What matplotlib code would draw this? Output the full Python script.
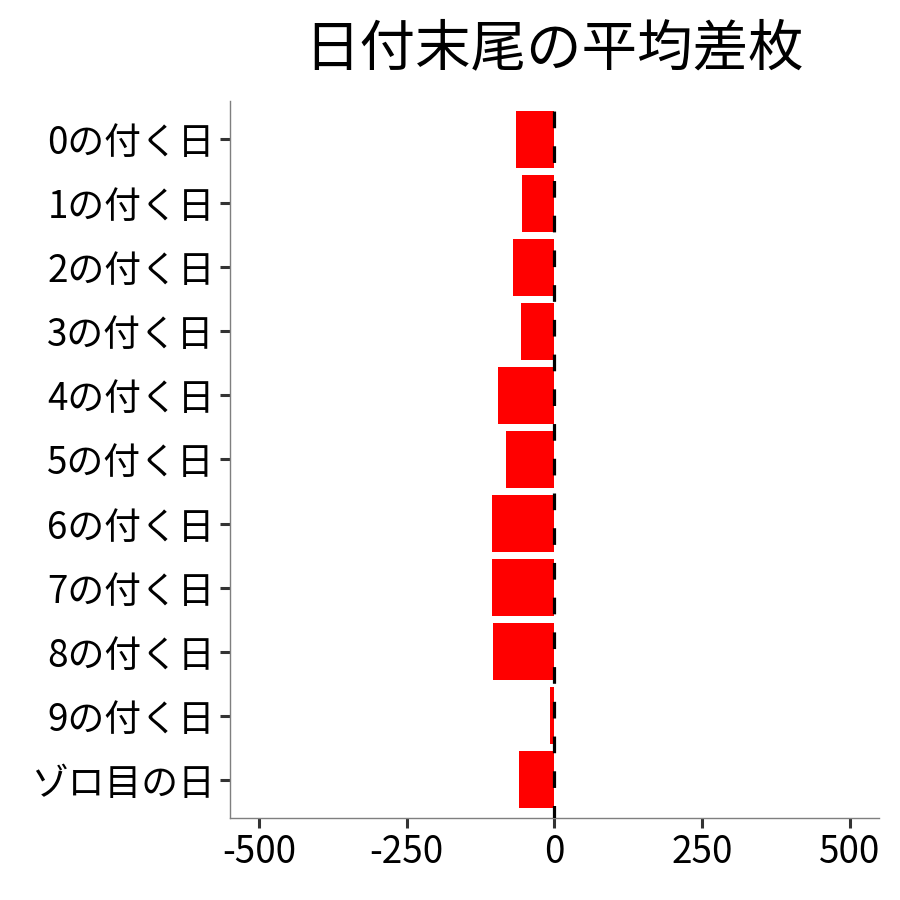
import matplotlib
matplotlib.use("Agg")
import matplotlib.pyplot as plt

plt.rcParams['font.family'] = ['Noto Sans CJK JP', 'DejaVu Sans']
plt.rcParams['lines.scale_dashes'] = False

categories = ["0の付く日", "1の付く日", "2の付く日", "3の付く日", "4の付く日",
              "5の付く日", "6の付く日", "7の付く日", "8の付く日", "9の付く日", "ゾロ目の日"]
values = [-65, -55, -70, -56, -95, -82, -106, -106, -104, -7, -60]
xticks = [-500, -250, 0, 250, 500]
xticklabels = ["-500", "-250", "0", "250", "500"]
title = "日付末尾の平均差枚"

fig = plt.figure(figsize=(9, 9), dpi=100)
ax = fig.add_axes([0.2556, 0.0911, 0.7211, 0.7967])

y = list(range(len(categories)))
ax.barh(y, values, height=0.9, color="#ff0000", zorder=2)
ax.axvline(0, color="black", linewidth=2.3, linestyle=(3, (12, 13)), zorder=3)

ax.set_xlim(-549, 550)
ax.set_ylim(len(categories) - 0.4, -0.6)
ax.set_yticks(y)
ax.set_yticklabels(categories, fontsize=26.5, color="black")
ax.set_xticks(xticks)
ax.set_xticklabels(xticklabels, fontsize=26.5, color="black")

for s in ["top", "right"]:
    ax.spines[s].set_visible(False)
for s in ["left", "bottom"]:
    ax.spines[s].set_color("#7f7f7f")
    ax.spines[s].set_linewidth(1.0)
ax.tick_params(axis="both", length=7, width=2.2, color="#333333", pad=4)

fig.text(0.6161, 0.945, title, fontsize=40, ha="center", va="center")

fig.savefig("out.png", dpi=100, facecolor="white")
